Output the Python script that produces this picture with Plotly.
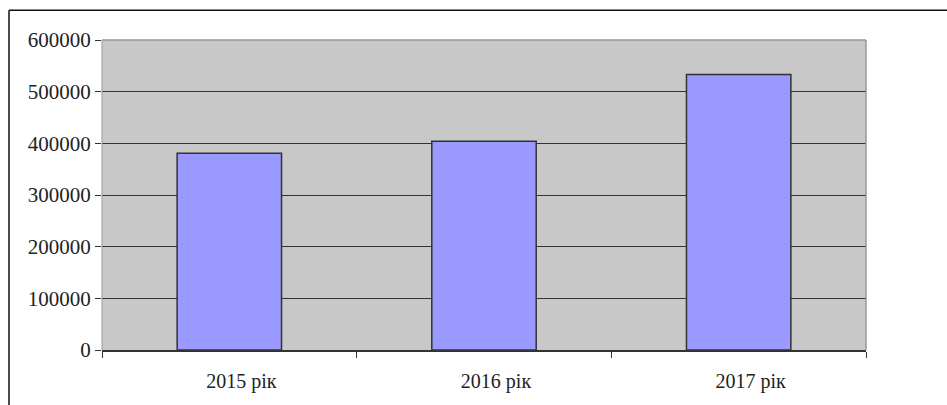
import plotly.graph_objects as go

categories = ["2015 рік", "2016 рік", "2017 рік"]
values = [381000, 404000, 533000]
y_ticks = [0, 100000, 200000, 300000, 400000, 500000, 600000]
y_tick_labels = ["0", "100000", "200000", "300000", "400000", "500000", "600000"]

W, H = 947, 405
L, R, T, B = 102, 866, 40, 352
SERIF = "'Times New Roman', 'Liberation Serif', 'DejaVu Serif', serif"

fig = go.Figure(go.Bar(
    x=categories, y=values,
    marker=dict(color="#9999FF", line=dict(color="#333333", width=1.5)),
    width=0.41,
))

def px_x(p):
    return (p - L) / (R - L)

def px_y(p):
    return (B - p) / (B - T)

fig.update_layout(
    width=W, height=H,
    margin=dict(l=L, r=W - R, t=T, b=H - B, pad=0),
    paper_bgcolor="white",
    plot_bgcolor="#C8C8C8",
    showlegend=False,
    font=dict(family=SERIF, color="#222222"),
    xaxis=dict(
        tickfont=dict(family=SERIF, size=20), showgrid=False, showline=True,
        linecolor="#333333", linewidth=1.5, ticks="outside", ticklen=6,
        tickcolor="#333333", tickson="boundaries", tickwidth=1.2,
        ticklabelshift=12, ticklabelstandoff=12,
        mirror=False,
    ),
    yaxis=dict(
        range=[0, 600000], tickvals=y_ticks, ticktext=y_tick_labels,
        tickfont=dict(family=SERIF, size=21), showgrid=True, gridcolor="#333333", gridwidth=1,
        ticks="outside", ticklen=6, tickcolor="#333333", showline=False,
        zeroline=False,
    ),
    shapes=[
        dict(type="line", xref="paper", yref="paper", x0=0, x1=1, y0=1, y1=1,
             line=dict(color="#999999", width=1.5)),
        dict(type="line", xref="paper", yref="paper", x0=1, x1=1, y0=0, y1=1,
             line=dict(color="#999999", width=1.5)),
        dict(type="line", xref="paper", yref="paper", x0=0, x1=0, y0=0, y1=1,
             line=dict(color="#999999", width=1)),
        dict(type="line", xref="paper", yref="paper",
             x0=px_x(9), x1=px_x(W + 5), y0=px_y(10), y1=px_y(10),
             line=dict(color="#111111", width=1.5)),
        dict(type="line", xref="paper", yref="paper",
             x0=px_x(9), x1=px_x(9), y0=px_y(10), y1=px_y(H + 5),
             line=dict(color="#111111", width=1.5)),
    ],
)

fig.write_html(
    "out.html",
    config={"displayModeBar": False},
    post_script="document.body.style.margin='0';document.body.style.overflow='hidden';",
)
